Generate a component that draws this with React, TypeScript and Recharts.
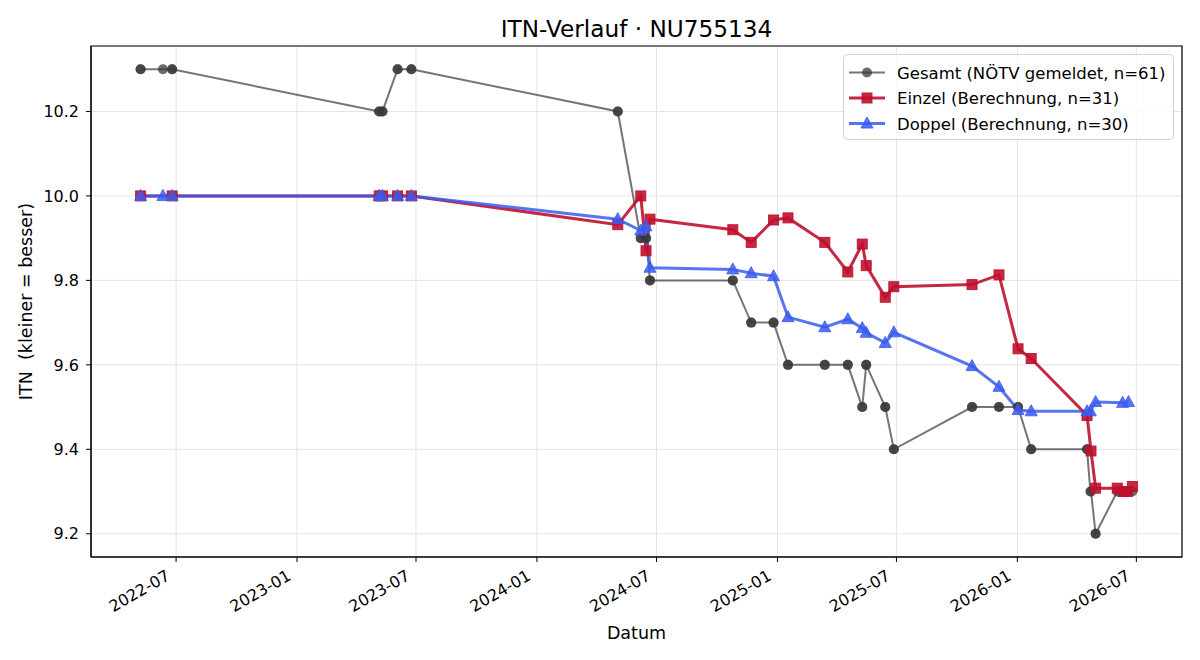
import {
  CartesianGrid,
  Line,
  LineChart,
  ReferenceArea,
  XAxis,
  YAxis,
} from "recharts";

// Gesamt: reported ITN per match (singles + doubles)
const gesamtDates = [
  "2022-05-08", "2022-05-08", "2022-06-11", "2022-06-25", "2022-06-25",
  "2023-05-06", "2023-05-06", "2023-05-11", "2023-05-11", "2023-06-03",
  "2023-06-03", "2023-06-24", "2023-06-24", "2024-05-03", "2024-05-03",
  "2024-06-07", "2024-06-07", "2024-06-15", "2024-06-15", "2024-06-21",
  "2024-06-21", "2024-10-25", "2024-10-25", "2024-11-22", "2024-11-22",
  "2024-12-26", "2024-12-26", "2025-01-17", "2025-01-17", "2025-03-14",
  "2025-03-14", "2025-04-18", "2025-04-18", "2025-05-10", "2025-05-10",
  "2025-05-16", "2025-05-16", "2025-06-14", "2025-06-14", "2025-06-27",
  "2025-06-27", "2025-10-24", "2025-10-24", "2025-12-04", "2025-12-04",
  "2026-01-02", "2026-01-02", "2026-01-22", "2026-01-22", "2026-04-17",
  "2026-04-17", "2026-04-22", "2026-04-23", "2026-04-30", "2026-04-30",
  "2026-06-02", "2026-06-10", "2026-06-11", "2026-06-17", "2026-06-19",
  "2026-06-25",
];
const gesamtValues = [
  10.3, 10.3, 10.3, 10.3, 10.3,
  10.2, 10.2, 10.2, 10.2, 10.3,
  10.3, 10.3, 10.3, 10.2, 10.2,
  9.9, 9.9, 9.9, 9.9, 9.8,
  9.8, 9.8, 9.8, 9.7, 9.7,
  9.7, 9.7, 9.6, 9.6, 9.6,
  9.6, 9.6, 9.6, 9.5, 9.5,
  9.6, 9.6, 9.5, 9.5, 9.4,
  9.4, 9.5, 9.5, 9.5, 9.5,
  9.5, 9.5, 9.4, 9.4, 9.4,
  9.4, 9.3, 9.3, 9.2, 9.2,
  9.3, 9.3, 9.3, 9.3, 9.3,
  9.3,
];

// Einzel: computed singles ITN
const einzelDates = [
  "2022-05-08", "2022-06-25", "2023-05-06", "2023-05-11", "2023-06-03",
  "2023-06-24", "2024-05-03", "2024-06-07", "2024-06-15", "2024-06-21",
  "2024-10-25", "2024-11-22", "2024-12-26", "2025-01-17", "2025-03-14",
  "2025-04-18", "2025-05-10", "2025-05-16", "2025-06-14", "2025-06-27",
  "2025-10-24", "2025-12-04", "2026-01-02", "2026-01-22", "2026-04-17",
  "2026-04-23", "2026-04-30", "2026-06-02", "2026-06-11", "2026-06-17",
  "2026-06-25",
];
const einzelValues = [
  10.0, 10.0, 10.0, 10.0, 10.0,
  10.0, 9.932, 10.0, 9.87, 9.945,
  9.92, 9.89, 9.943, 9.948, 9.89,
  9.82, 9.886, 9.835, 9.76, 9.785,
  9.79, 9.813, 9.638, 9.615, 9.48,
  9.396, 9.308, 9.308, 9.3, 9.3,
  9.312,
];

// Doppel: computed doubles ITN
const doppelDates = [
  "2022-05-08", "2022-06-11", "2022-06-25", "2023-05-06", "2023-05-11",
  "2023-06-03", "2023-06-24", "2024-05-03", "2024-06-07", "2024-06-15",
  "2024-06-21", "2024-10-25", "2024-11-22", "2024-12-26", "2025-01-17",
  "2025-03-14", "2025-04-18", "2025-05-10", "2025-05-16", "2025-06-14",
  "2025-06-27", "2025-10-24", "2025-12-04", "2026-01-02", "2026-01-22",
  "2026-04-17", "2026-04-22", "2026-04-30", "2026-06-10", "2026-06-19",
];
const doppelValues = [
  10.0, 10.0, 10.0, 10.0, 10.0,
  10.0, 10.0, 9.945, 9.918, 9.928,
  9.83, 9.826, 9.817, 9.81, 9.713,
  9.689, 9.708, 9.687, 9.676, 9.652,
  9.677, 9.597, 9.548, 9.493, 9.49,
  9.49, 9.49, 9.512, 9.51, 9.512,
];

const xTickLabels = [
  "2022-07", "2023-01", "2023-07", "2024-01", "2024-07",
  "2025-01", "2025-07", "2026-01", "2026-07",
];
const yTicks = [9.2, 9.4, 9.6, 9.8, 10.0, 10.2];

const toT = (d: string) => Date.parse(d + "T00:00:00Z");

const series = (dates: string[], values: number[]) =>
  dates.map((d, i) => ({ t: toT(d), v: values[i] }));

const gesamt = series(gesamtDates, gesamtValues);
const einzel = series(einzelDates, einzelValues);
const doppel = series(doppelDates, doppelValues);

const xTicks = xTickLabels.map((m) => toT(m + "-01"));

// 5% padding on both axes
const tFirst = toT(gesamtDates[0]);
const tLast = toT(gesamtDates[gesamtDates.length - 1]);
const tPad = (tLast - tFirst) * 0.05;
const xDomain: [number, number] = [tFirst - tPad, tLast + tPad];
const yDomain: [number, number] = [9.145, 10.355];

const FONT = "'DejaVu Sans', sans-serif";
const GREY = "#3a3a3a";
const RED = "#c0102e";
const BLUE = "#3b5cf0";

const fmtMonth = (t: number) => {
  const d = new Date(t);
  return `${d.getUTCFullYear()}-${String(d.getUTCMonth() + 1).padStart(2, "0")}`;
};

function DateTick(props: any) {
  const { x, y, payload } = props;
  const px = x - 5;
  const py = y + 15;
  return (
    <text
      x={px}
      y={py}
      textAnchor="end"
      fontSize={16}
      fontFamily={FONT}
      fill="#000"
      transform={`rotate(-30, ${px}, ${py})`}
    >
      {fmtMonth(payload.value)}
    </text>
  );
}

const circleDot = (p: any) =>
  p.cx == null ? null : (
    <circle key={`g${p.index}`} cx={p.cx} cy={p.cy} r={5} fill={GREY} fillOpacity={0.75} stroke="none" />
  );

const squareDot = (p: any) =>
  p.cx == null ? null : (
    <rect
      key={`e${p.index}`}
      x={p.cx - 5}
      y={p.cy - 5}
      width={10}
      height={10}
      fill={RED}
      fillOpacity={0.9}
      stroke={RED}
      strokeOpacity={0.9}
      strokeWidth={1}
    />
  );

const triangleDot = (p: any) =>
  p.cx == null ? null : (
    <polygon
      key={`d${p.index}`}
      points={`${p.cx},${p.cy - 6.5} ${p.cx - 6},${p.cy + 4.5} ${p.cx + 6},${p.cy + 4.5}`}
      fill={BLUE}
      fillOpacity={0.85}
      stroke={BLUE}
      strokeOpacity={0.85}
      strokeWidth={1}
    />
  );

const legendRows = [
  { label: "Gesamt (NÖTV gemeldet, n=61)", color: GREY, kind: "circle", width: 2, opacity: 0.7 },
  { label: "Einzel (Berechnung, n=31)", color: RED, kind: "square", width: 3, opacity: 0.9 },
  { label: "Doppel (Berechnung, n=30)", color: BLUE, kind: "triangle", width: 3, opacity: 0.85 },
];

function Overlay() {
  return (
    <svg
      width={1200}
      height={660}
      style={{ position: "absolute", left: 0, top: 0, pointerEvents: "none" }}
      fontFamily={FONT}
    >
      <text x={636.5} y={37} textAnchor="middle" fontSize={23.2} fill="#000">
        ITN-Verlauf · NU755134
      </text>
      <text x={636.5} y={639} textAnchor="middle" fontSize={17.5} fill="#000">
        Datum
      </text>
      <text
        x={32}
        y={301.5}
        textAnchor="middle"
        fontSize={17.5}
        fill="#000"
        transform="rotate(-90, 32, 301.5)"
        style={{ whiteSpace: "pre" }}
      >
        {"ITN  (kleiner = besser)"}
      </text>

      <rect x={843.5} y={54.5} width={330} height={85} rx={4} fill="#fff" fillOpacity={0.8} stroke="#d0d0d0" />
      {legendRows.map((r, i) => {
        const cy = 72.5 + i * 25.5;
        const cx = 867;
        return (
          <g key={r.label}>
            <line x1={849} x2={885} y1={cy} y2={cy} stroke={r.color} strokeOpacity={r.opacity} strokeWidth={r.width} />
            {r.kind === "circle" && circleDot({ cx, cy, index: "l" })}
            {r.kind === "square" && squareDot({ cx, cy, index: "l" })}
            {r.kind === "triangle" && triangleDot({ cx, cy, index: "l" })}
            <text x={897} y={cy + 6} fontSize={16.5} fill="#000">
              {r.label}
            </text>
          </g>
        );
      })}
    </svg>
  );
}

export default function App() {
  return (
    <div style={{ position: "absolute", left: 0, top: 0, width: 1200, height: 660, background: "#fff" }}>
      <LineChart width={1200} height={660} margin={{ top: 46, right: 18, bottom: 0, left: 0 }}>
        <CartesianGrid stroke="#e4e4e4" strokeWidth={1} />
        <XAxis
          type="number"
          dataKey="t"
          domain={xDomain}
          allowDataOverflow
          ticks={xTicks}
          tick={<DateTick />}
          tickSize={5}
          height={103}
          stroke="#000"
          interval={0}
        />
        <YAxis
          type="number"
          dataKey="v"
          domain={yDomain}
          allowDataOverflow
          ticks={yTicks}
          tickFormatter={(v: number) => v.toFixed(1)}
          tick={{ fontSize: 16, fontFamily: FONT, fill: "#000" }}
          tickSize={5}
          tickMargin={7}
          width={91}
          stroke="#000"
          interval={0}
        />
        <Line
          data={gesamt}
          dataKey="v"
          stroke={GREY}
          strokeOpacity={0.7}
          strokeWidth={2}
          dot={circleDot}
          activeDot={false}
          isAnimationActive={false}
        />
        <Line
          data={einzel}
          dataKey="v"
          stroke={RED}
          strokeOpacity={0.9}
          strokeWidth={3}
          dot={squareDot}
          activeDot={false}
          isAnimationActive={false}
        />
        <Line
          data={doppel}
          dataKey="v"
          stroke={BLUE}
          strokeOpacity={0.85}
          strokeWidth={3}
          dot={triangleDot}
          activeDot={false}
          isAnimationActive={false}
        />
        <ReferenceArea
          x1={xDomain[0]}
          x2={xDomain[1]}
          y1={yDomain[0]}
          y2={yDomain[1]}
          fill="none"
          stroke="#000"
          strokeWidth={1.2}
          ifOverflow="visible"
        />
      </LineChart>
      <Overlay />
    </div>
  );
}
